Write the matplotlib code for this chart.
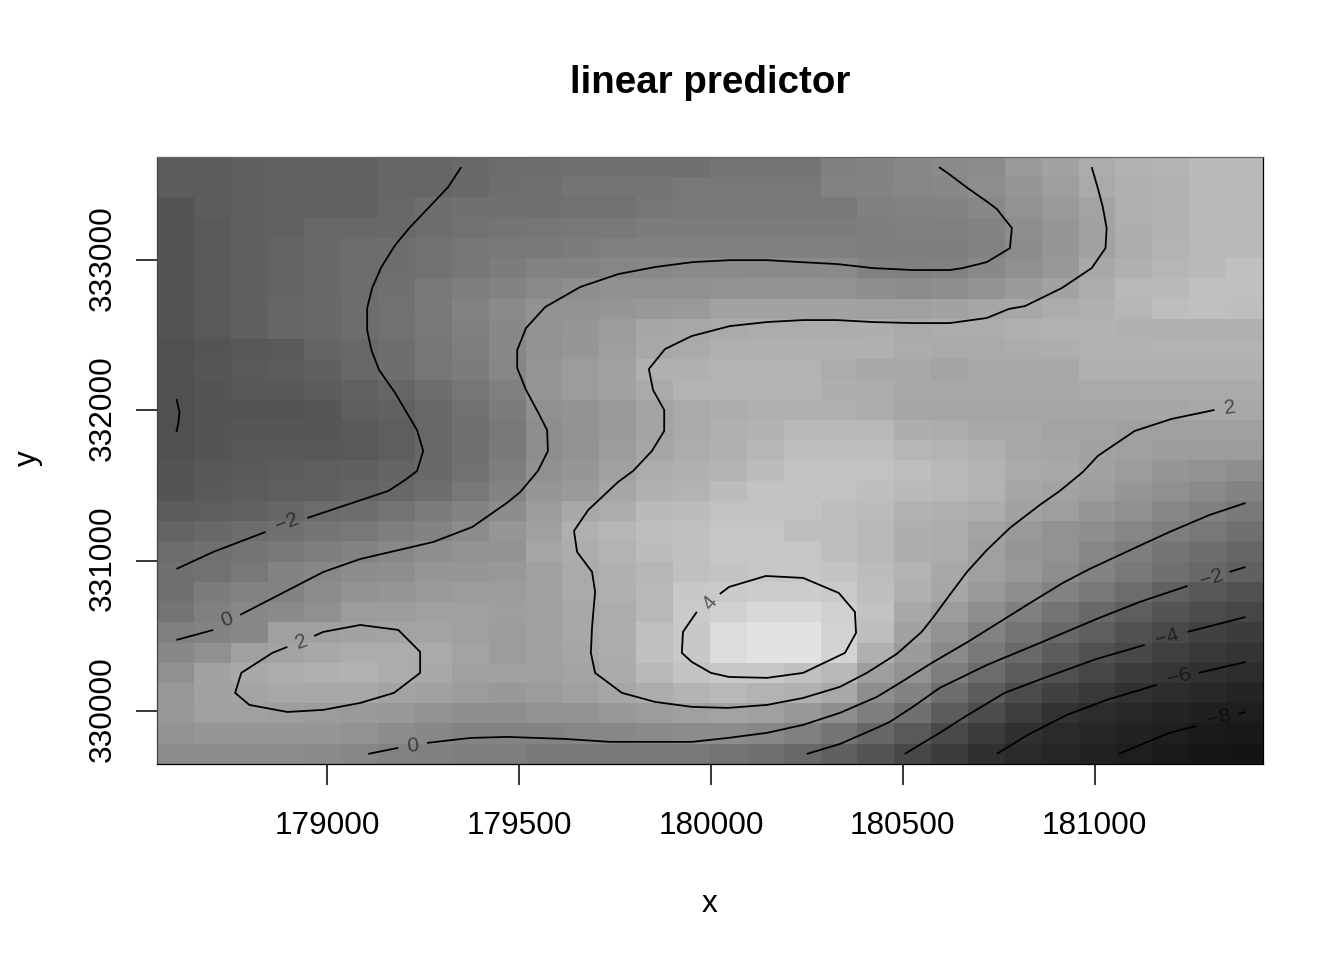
import numpy as np
from matplotlib import pyplot as plt
from matplotlib.transforms import ScaledTranslation

plt.rcParams['font.family'] = ['Liberation Sans', 'DejaVu Sans']

# grey level of each cell, rows from top to bottom of the map
grey_rows = [
    [92,92,96,98,98,98,102,102,106,108,110,112,112,112,112,116,116,116,128,132,136,138,140,154,162,172,178,180,186,186],
    [92,92,96,98,98,98,102,102,106,110,112,116,116,116,120,120,120,120,130,132,134,136,142,150,158,170,176,178,186,186],
    [84,92,96,98,98,98,104,110,112,112,112,114,114,118,120,120,120,120,120,128,130,132,136,146,154,164,176,178,186,186],
    [84,90,96,98,104,104,106,110,114,116,118,120,122,124,124,124,124,124,124,126,128,128,132,142,150,162,174,178,186,186],
    [84,90,96,100,104,108,110,114,118,120,122,124,128,128,128,128,128,128,128,126,126,126,130,140,150,162,172,180,184,186],
    [84,90,96,100,104,108,110,114,118,124,130,132,134,136,138,138,138,138,138,130,128,130,136,144,152,168,176,182,186,192],
    [84,90,96,100,104,108,112,120,126,132,138,142,144,144,144,146,148,148,146,142,140,142,148,154,162,172,184,186,192,192],
    [84,90,96,102,106,110,114,122,132,138,146,148,150,152,154,162,162,162,162,160,160,162,166,168,172,176,182,190,192,190],
    [84,90,96,102,106,110,114,120,128,136,148,150,156,166,168,170,172,172,172,174,170,172,172,176,178,178,176,176,176,176],
    [80,84,88,90,100,104,110,118,126,136,146,150,158,168,170,176,176,176,176,176,172,170,170,172,174,178,178,180,180,180],
    [80,86,90,92,96,104,110,118,124,134,150,156,162,176,176,180,180,180,172,168,168,164,168,168,168,176,176,176,176,176],
    [80,84,88,88,92,98,102,110,118,128,150,156,162,170,180,180,180,180,174,172,168,168,168,168,168,170,170,170,170,170],
    [80,84,84,84,86,94,98,106,114,124,144,148,154,164,170,174,176,176,176,172,166,166,166,166,166,166,166,166,168,168],
    [80,84,86,86,86,90,94,104,112,120,142,148,154,164,170,176,178,184,184,184,174,172,168,168,164,164,160,160,160,160],
    [80,84,88,88,88,90,94,104,112,122,142,148,156,166,172,176,182,190,190,190,182,180,176,168,166,162,160,156,156,156],
    [84,88,90,92,94,96,100,106,114,126,144,150,160,172,176,180,188,194,194,194,190,184,180,170,168,162,156,150,146,142],
    [84,90,92,94,96,100,104,110,120,132,150,154,166,176,180,188,194,194,194,190,186,184,180,166,162,158,150,144,138,132],
    [92,94,98,102,108,110,116,124,132,140,156,168,172,186,188,194,196,196,190,188,178,176,172,162,158,150,144,134,128,122],
    [100,104,108,112,116,120,126,132,140,150,160,176,182,190,192,198,198,190,190,184,174,172,164,154,146,142,134,126,120,112],
    [108,112,116,122,126,132,136,142,148,148,166,172,180,188,192,198,198,198,190,184,174,172,160,150,146,134,126,116,110,102],
    [112,114,120,132,136,140,142,150,150,152,160,170,176,182,192,196,198,198,196,188,180,168,160,152,142,132,122,112,104,96],
    [112,124,130,132,140,148,150,154,156,156,160,170,176,184,200,202,204,204,202,190,176,166,154,142,130,120,108,98,88,80],
    [116,128,136,138,144,156,156,160,160,158,160,168,172,184,202,208,216,216,208,194,168,156,142,128,116,106,94,84,76,70],
    [128,132,136,160,160,162,164,164,160,156,160,168,174,192,200,220,226,226,210,190,162,146,130,116,104,94,82,74,66,60],
    [136,144,160,164,168,172,172,170,164,156,160,166,172,192,200,220,226,226,212,176,154,138,120,106,92,80,72,64,56,52],
    [144,162,168,172,176,178,172,168,160,160,160,164,170,184,196,200,200,192,184,158,146,126,108,92,80,70,60,54,48,44],
    [152,162,164,168,168,168,164,160,156,152,156,160,166,172,180,184,180,176,168,142,132,110,92,76,64,56,48,44,40,36],
    [152,160,160,158,156,154,152,146,142,142,146,148,152,156,160,164,160,152,142,126,112,92,76,62,50,44,40,36,32,30],
    [146,150,150,150,150,148,140,136,132,132,132,134,136,138,140,140,136,128,116,102,90,74,60,48,42,38,34,30,26,24],
    [140,140,140,140,138,134,130,128,126,126,122,122,122,122,120,116,112,104,96,84,72,60,48,42,38,34,30,26,22,20],
]

# first and last grid point of the map
x_first, x_last = 178607, 181393
y_first, y_last = 329714, 333619

xticks = [179000, 179500, 180000, 180500, 181000]
yticks = [330000, 331000, 332000, 333000]

# contour lines, split where a label sits
neg2_a_x = [179349,179315,179263,179216,179177,179141,179117,179104,179104,179115,179135,179177,179234,179250,179234,179203,179159,178948]
neg2_a_y = [333619,333486,333346,333220,333100,332954,332814,332681,332535,332402,332269,332116,331869,331730,331597,331537,331464,331284]
neg2_b_x = [178839,178703,178607]
neg2_b_y = [331191,331058,330945]

neg4_x = [178607,178615,178612,178607]
neg4_y = [332076,331989,331916,331856]

zero_a_x = [180594,180617,180669,180721,180745,180784,180779,180719,180656,180622,180526,180422,180328,180232,180146,180049,179953,179854,179758,179659,179568,179518,179495,179495,179518,179549,179573,179575,179549,179503,179471,179378,179276,179086,178990,178773]
zero_a_y = [333619,333579,333479,333386,333340,333213,333080,332987,332947,332934,332934,332947,332974,332987,333000,333000,332987,332954,332907,332821,332688,332548,332402,332282,332136,331989,331869,331730,331597,331457,331390,331224,331124,331011,330925,330639]
zero_b_x = [178703,178607]
zero_b_y = [330539,330472]

two_a_x = [180992,181008,181021,181031,181028,180992,180914,180818,180776,180719,180622,180526,180422,180328,180240,180146,180049,179950,179880,179838,179849,179878,179878,179846,179797,179758,179680,179643,179651,179690,179698,179690,179687,179698,179768,179854,179950,180044,180146,180240,180336,180406,180484,180549,180578,180622,180667,180719,180779,180857,180909,180969,181008,181104,181200,181312]
two_a_y = [333619,333479,333353,333213,333080,332947,332814,332694,332675,332615,332581,332581,332588,332601,332601,332588,332561,332495,332408,332275,332136,332003,331863,331730,331597,331524,331337,331198,331058,330925,330792,330559,330386,330253,330120,330060,330027,330020,330040,330086,330160,330253,330379,330526,330619,330772,330925,331071,331218,331371,331464,331590,331697,331863,331943,332003]

two_loop_x = [178966,178990,179086,179185,179242,179242,179174,179086,178990,178896,178797,178760,178776,178857,178896]
two_loop_y = [330499,330526,330572,330539,330393,330253,330120,330053,330007,329993,330040,330120,330253,330386,330426]

four_x = [180023,180047,180143,180240,180333,180375,180378,180349,180240,180146,180047,180000,179950,179924,179927,179963]
four_y = [330778,330825,330898,330885,330785,330659,330519,330386,330253,330220,330226,330253,330326,330386,330526,330659]

zero_c_x = [179107,179185]
zero_c_y = [329714,329754]
zero_d_x = [179260,179372,179469,179615,179737,179854,179950,180044,180146,180240,180336,180432,180492,180575,180669,180765,180823,180917,180987,181104,181195,181299,181393]
zero_d_y = [329787,329820,329827,329814,329794,329794,329794,329820,329854,329907,329987,330093,330186,330319,330459,330612,330705,330852,330945,331084,331191,331304,331384]

neg2_c_x = [180250,180336,180432,180466,180526,180596,180719,180857,181005,181117,181242]
neg2_c_y = [329714,329780,329887,329927,330027,330153,330306,330452,330612,330725,330832]
neg2_d_x = [181351,181393]
neg2_d_y = [330925,330958]

neg4_b_x = [180505,180596,180661,180765,180875,181005,181130]
neg4_b_y = [329714,329854,329960,330120,330226,330346,330439]
neg4_c_x = [181242,181393]
neg4_c_y = [330526,330625]

neg6_a_x = [180745,180825,180927,181031,181161]
neg6_a_y = [329714,329840,329973,330073,330173]
neg6_b_x = [181271,181393]
neg6_b_y = [330253,330326]

neg8_a_x = [181062,181195,181265]
neg8_a_y = [329714,329854,329900]
neg8_b_x = [181375,181393]
neg8_b_y = [329980,329993]

lines = [(neg2_a_x, neg2_a_y), (neg2_b_x, neg2_b_y), (neg4_x, neg4_y),
         (zero_a_x, zero_a_y), (zero_b_x, zero_b_y), (two_a_x, two_a_y),
         (two_loop_x, two_loop_y), (four_x, four_y), (zero_c_x, zero_c_y),
         (zero_d_x, zero_d_y), (neg2_c_x, neg2_c_y), (neg2_d_x, neg2_d_y),
         (neg4_b_x, neg4_b_y), (neg4_c_x, neg4_c_y), (neg6_a_x, neg6_a_y),
         (neg6_b_x, neg6_b_y), (neg8_a_x, neg8_a_y), (neg8_b_x, neg8_b_y)]

label_text = ['\u22122', '0', '2', '0', '4', '2', '\u22122', '\u22124', '\u22126', '\u22128']
label_x = [178896, 178737, 178932, 179221, 179997, 181351, 181305, 181187, 181221, 181325]
label_y = [331251, 330605, 330459, 329767, 330719, 332016, 330885, 330492, 330226, 329953]
label_rot = [22, 20, 20, 5, 50, 8, 18, 16, 14, 14]

fig = plt.figure(figsize=(13.44, 9.6), dpi=100)
ax = fig.add_axes([157 / 1344, 1 - 764 / 960, 1106 / 1344, 607 / 960])

half_x = (x_last - x_first) / 29 / 2
half_y = (y_last - y_first) / 29 / 2
# nudge of 2.6 units lines the ticks and lines up with the pixel grid of the original
extent = [x_first - half_x - 2.6, x_last + half_x - 2.6, y_first - half_y, y_last + half_y]
ax.imshow(np.array(grey_rows), cmap='gray', vmin=0, vmax=255, extent=extent,
          aspect='auto', origin='upper', interpolation='nearest')

for xs, ys in lines:
    ax.plot(xs, ys, color='black', lw=1.3, solid_capstyle='butt')

for t, x, y, r in zip(label_text, label_x, label_y, label_rot):
    ax.text(x, y, t, ha='center', va='center', rotation=r, rotation_mode='anchor',
            fontsize=15, color='black', alpha=0.55)

ax.set_xlim(extent[0], extent[1])
ax.set_ylim(extent[2], extent[3])
ax.set_xticks(xticks)
ax.set_xticklabels([str(v) for v in xticks])
ax.set_yticks(yticks)
ax.set_yticklabels([str(v) for v in yticks], rotation=90, va='center')
ax.tick_params(axis='both', length=15, width=1.1, labelsize=22.7, color='black')
ax.tick_params(axis='x', pad=19)
ax.tick_params(axis='y', pad=13.4)
for lab in ax.get_yticklabels():
    lab.set_transform(lab.get_transform() + ScaledTranslation(0, 2 / 100, fig.dpi_scale_trans))
for s in ax.spines.values():
    s.set_linewidth(0.9)
ax.spines['top'].set_color('#666666')
ax.spines['left'].set_color('#444444')

fig.text(710 / 1344, 1 - 83 / 960, 'linear predictor', ha='center', va='center',
         fontsize=27.7, fontweight='bold')
fig.text(710 / 1344, 1 - 904 / 960, 'x', ha='center', va='center', fontsize=22.7)
fig.text(28 / 1344, 1 - 458 / 960, 'y', ha='center', va='center', fontsize=22.7, rotation=90)

plt.savefig('out.png', dpi=100)
